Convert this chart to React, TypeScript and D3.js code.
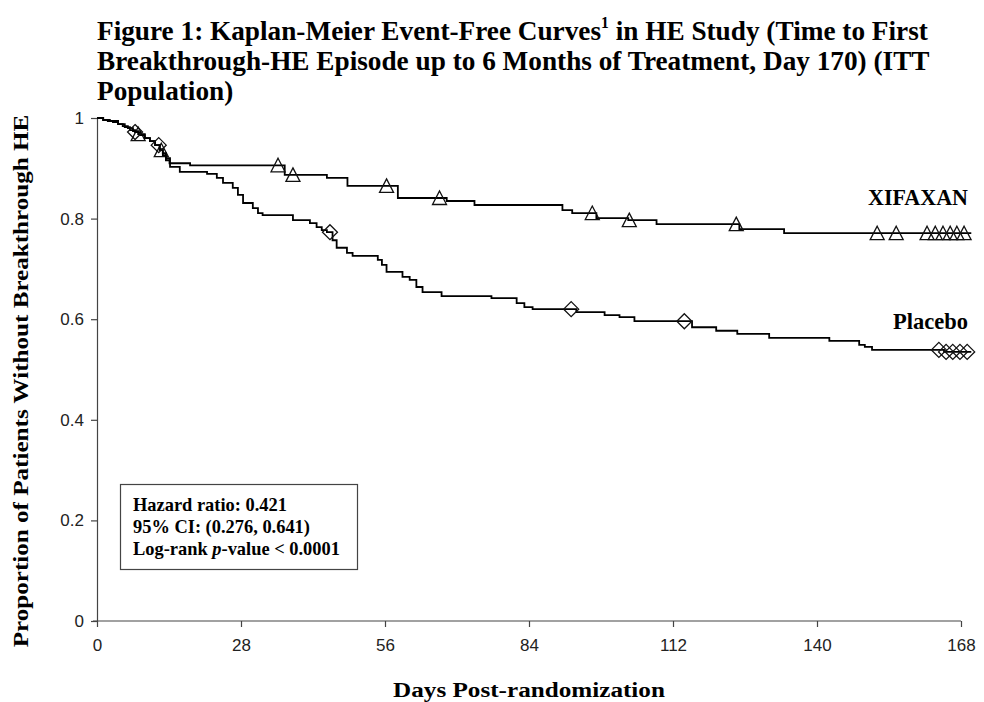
import { useEffect, useRef } from "react";
import * as d3 from "d3";

const W = 984;
const H = 702;

// XIFAXAN arm: step points (day, proportion event-free)
const xifaxanDays = [0, 1.2, 2.1, 3.1, 4.1, 5.0, 6.0, 7.0, 8.0, 9.3, 10.3, 11.3, 12.2, 12.8, 13.4, 14.1, 18.1, 36.5, 44.7, 48.7, 58.5, 68.0, 73.4, 90.5, 92.4, 97.1, 103.3, 108.8, 124.9, 133.6, 170];
const xifaxanSurv = [1, 0.996, 0.994, 0.992, 0.988, 0.984, 0.98, 0.974, 0.968, 0.96, 0.954, 0.946, 0.936, 0.926, 0.916, 0.91, 0.906, 0.887, 0.881, 0.865, 0.841, 0.835, 0.827, 0.817, 0.811, 0.801, 0.797, 0.789, 0.779, 0.771, 0.771];
const xifaxanCensored = [8.0, 12.5, 35.2, 38.1, 56.3, 66.6, 96.3, 103.5, 124.3, 151.7, 155.4, 161.4, 163.0, 164.5, 165.9, 167.2, 168.6];

// Placebo arm
const placeboDays = [0, 1.2, 2.5, 4.1, 5.4, 6.4, 7.4, 8.4, 9.3, 10.3, 11.3, 12.2, 12.8, 13.4, 14.2, 16.1, 21.4, 23.3, 24.5, 26.4, 27.4, 28.4, 30.3, 31.3, 32.2, 38.1, 41.4, 42.7, 43.7, 44.7, 45.8, 46.6, 48.6, 49.7, 54.6, 55.4, 56.3, 59.4, 60.8, 62.1, 63.3, 67.0, 76.7, 81.6, 83.1, 84.7, 93.2, 98.7, 101.6, 104.5, 115.7, 120.4, 124.5, 130.7, 142.4, 148.2, 149.3, 150.7, 164.7, 170];
const placeboSurv = [1, 0.996, 0.994, 0.988, 0.982, 0.976, 0.972, 0.966, 0.96, 0.954, 0.946, 0.938, 0.93, 0.92, 0.903, 0.893, 0.889, 0.881, 0.871, 0.861, 0.847, 0.831, 0.821, 0.811, 0.807, 0.797, 0.791, 0.783, 0.777, 0.773, 0.757, 0.742, 0.732, 0.726, 0.718, 0.708, 0.694, 0.684, 0.678, 0.664, 0.654, 0.646, 0.642, 0.632, 0.624, 0.62, 0.614, 0.608, 0.604, 0.596, 0.584, 0.577, 0.571, 0.563, 0.557, 0.549, 0.545, 0.539, 0.535, 0.535];
const placeboCensored = [7.4, 12.0, 45.3, 92.2, 114.2, 163.7, 165.1, 166.4, 167.8, 169.2];

const xTicks = [0, 28, 56, 84, 112, 140, 168];
const yTicks = [0, 0.2, 0.4, 0.6, 0.8, 1];

const titleLines = [
  ["Figure 1: Kaplan-Meier Event-Free Curves", "1", " in HE Study (Time to First"],
  ["Breakthrough-HE Episode up to 6 Months of Treatment, Day 170) (ITT"],
  ["Population)"],
];
const statLines = ["Hazard ratio: 0.421", "95% CI: (0.276, 0.641)", "Log-rank ", "p", "-value < 0.0001"];

const serif = "'Times New Roman', 'Liberation Serif', serif";
const sans = "Arial, 'Liberation Sans', sans-serif";

const survAt = (days: number[], surv: number[], t: number) =>
  surv[Math.max(0, d3.bisectRight(days, t) - 1)];

// squeeze a text horizontally so it spans `target` px
const fit = (t: any, target: number, tx: number, ty: number, extra = "") => {
  const k = target / (t.node() as SVGTextElement).getComputedTextLength();
  t.attr("transform", `translate(${tx}, ${ty}) ${extra} scale(${k}, 1)`);
  return k;
};

const App = () => {
  const ref = useRef<SVGSVGElement>(null);

  useEffect(() => {
    const svg = d3.select(ref.current);
    svg.selectAll("*").remove();

    const x = d3.scaleLinear().domain([0, 168]).range([97, 961]);
    const y = d3.scaleLinear().domain([0, 1]).range([621, 118]);

    // title
    const title = svg.append("g").attr("font-family", serif).attr("font-weight", "bold").attr("fill", "#000");
    const tl = titleLines.map((parts) => {
      const t = title.append("text").attr("font-size", 28);
      parts.forEach((p, j) => {
        if (parts.length === 3 && j === 1) {
          t.append("tspan").attr("font-size", 16).attr("dy", -12).text(p);
        } else if (parts.length === 3 && j === 2) {
          t.append("tspan").attr("font-size", 28).attr("dy", 12).text(p);
        } else {
          t.append("tspan").text(p);
        }
      });
      return t;
    });
    const kTitle = 831 / (tl[0].node() as SVGTextElement).getComputedTextLength();
    tl.forEach((t, i) => t.attr("transform", `translate(97, ${40 + i * 30}) scale(${kTitle}, 1)`));

    // axes
    const axisColor = "#444";
    const gx = svg
      .append("g")
      .attr("transform", `translate(0, ${y(0)})`)
      .call(d3.axisBottom(x).tickValues(xTicks).tickSize(6).tickSizeOuter(0).tickPadding(12).tickFormat((d) => String(d)));
    const gy = svg
      .append("g")
      .attr("transform", `translate(${x(0)}, 0)`)
      .call(d3.axisLeft(y).tickValues(yTicks).tickSize(6).tickSizeOuter(0).tickPadding(7).tickFormat((d) => String(d)));
    [gx, gy].forEach((g) => {
      g.select(".domain").attr("stroke", axisColor).attr("stroke-width", 1.2);
      g.selectAll(".tick line").attr("stroke", axisColor).attr("stroke-width", 1.2);
      g.selectAll(".tick text").attr("font-family", sans).attr("font-size", 17).attr("fill", "#222");
    });
    gx.select(".domain").attr("d", `M${x(0) - 4},0H${x(168)}`);

    // curves
    const line = d3
      .line<[number, number]>()
      .x((d) => x(d[0]))
      .y((d) => y(d[1]))
      .curve(d3.curveStepAfter);

    const series = [
      { days: xifaxanDays, surv: xifaxanSurv, cens: xifaxanCensored, shape: "M0,-7L7,6.5L-7,6.5Z" },
      { days: placeboDays, surv: placeboSurv, cens: placeboCensored, shape: "M0,-7.5L7.5,0L0,7.5L-7.5,0Z" },
    ];

    series.forEach((s) => {
      svg
        .append("path")
        .datum(s.days.map((d, i) => [d, s.surv[i]] as [number, number]))
        .attr("fill", "none")
        .attr("stroke", "#000")
        .attr("stroke-width", 1.8)
        .attr("d", line);

      svg
        .append("g")
        .selectAll("path")
        .data(s.cens)
        .join("path")
        .attr("transform", (d) => `translate(${x(d)}, ${y(survAt(s.days, s.surv, d))})`)
        .attr("d", s.shape)
        .attr("fill", "none")
        .attr("stroke", "#111")
        .attr("stroke-width", 1.3);
    });

    // series labels
    const lab = svg.append("g").attr("font-family", serif).attr("font-weight", "bold").attr("font-size", 23);
    fit(lab.append("text").text("XIFAXAN"), 100, 868, 205);
    fit(lab.append("text").text("Placebo"), 75, 893, 329);

    // stats box
    svg
      .append("rect")
      .attr("x", 120.5)
      .attr("y", 484.5)
      .attr("width", 237)
      .attr("height", 85)
      .attr("fill", "#fff")
      .attr("stroke", "#444")
      .attr("stroke-width", 1.2);
    const box = svg.append("g").attr("font-family", serif).attr("font-weight", "bold").attr("font-size", 19);
    const b1 = box.append("text").text(statLines[0]);
    const kb = fit(b1, 154, 133, 511);
    box.append("text").attr("transform", `translate(133, 533) scale(${kb}, 1)`).text(statLines[1]);
    const l3 = box.append("text").attr("transform", `translate(133, 555) scale(${kb}, 1)`);
    l3.append("tspan").text(statLines[2]);
    l3.append("tspan").attr("font-style", "italic").text(statLines[3]);
    l3.append("tspan").text(statLines[4]);

    // axis titles
    const xt = svg
      .append("text")
      .attr("text-anchor", "middle")
      .attr("font-family", serif)
      .attr("font-weight", "bold")
      .attr("font-size", 22)
      .text("Days Post-randomization");
    fit(xt, 272, 529, 697);

    const yt = svg
      .append("text")
      .attr("text-anchor", "middle")
      .attr("font-family", serif)
      .attr("font-weight", "bold")
      .attr("font-size", 21)
      .text("Proportion of Patients Without Breakthrough HE");
    fit(yt, 533, 28, 381, "rotate(-90)");
  }, []);

  return (
    <svg
      ref={ref}
      width={W}
      height={H}
      style={{ position: "absolute", left: 0, top: 0, background: "#fff" }}
    />
  );
};

export default App;
